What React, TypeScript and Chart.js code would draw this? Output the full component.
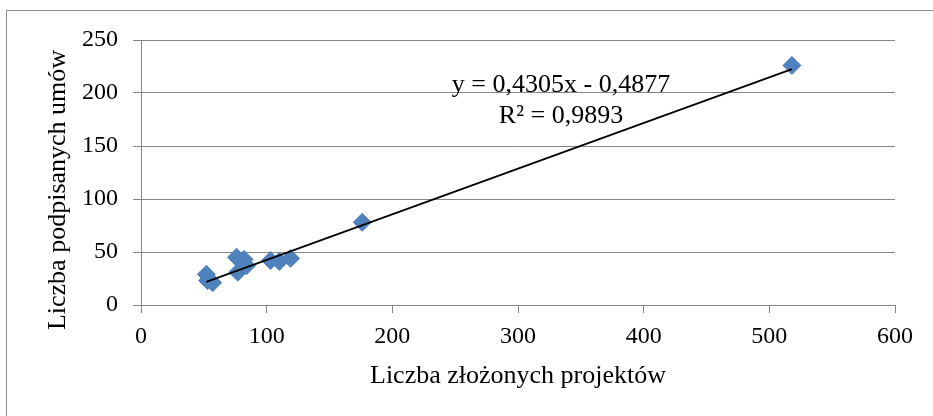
import React, { useEffect, useRef } from "react";
import { Chart, registerables } from "chart.js";

Chart.register(...registerables);

const FONT = "'Liberation Serif', 'Times New Roman', serif";

// Data
const projectsSubmitted = [52, 53, 57, 76, 82, 77, 84, 103, 110, 119, 176, 518];
const contractsSigned = [29, 23, 21, 45, 43, 31, 37, 42, 41, 44, 78, 226];

// Linear trend line as printed on the chart
const trendSlope = 0.4305;
const trendIntercept = -0.4877;
const equationLines = ["y = 0,4305x - 0,4877", "R² = 0,9893"];

const xAxisTitle = "Liczba złożonych projektów";
const yAxisTitle = "Liczba podpisanych umów";

const xTickMin = 0;
const xTickMax = 600;
const xTickStep = 100;
const yTickMin = 0;
const yTickMax = 250;
const yTickStep = 50;

const GRAY = "#878787";
const BLUE = "#4F81BD";

const extraTextPlugin = {
  id: "extraText",
  afterDraw(chart: any) {
    const ctx = chart.ctx;
    ctx.save();
    ctx.fillStyle = "#000";
    ctx.font = `26px ${FONT}`;
    ctx.textAlign = "center";
    ctx.textBaseline = "alphabetic";
    ctx.fillText(equationLines[0], 561, 92);
    ctx.fillText(equationLines[1], 561, 123);
    ctx.translate(58, 190);
    ctx.rotate(-Math.PI / 2);
    ctx.textBaseline = "middle";
    ctx.fillText(yAxisTitle, 0, 0);
    ctx.restore();
  },
};

export default function App() {
  const canvasRef = useRef<HTMLCanvasElement | null>(null);

  useEffect(() => {
    if (!canvasRef.current) return;
    const points = projectsSubmitted.map((x, i) => ({ x, y: contractsSigned[i] }));
    const xMin = Math.min(...projectsSubmitted);
    const xMax = Math.max(...projectsSubmitted);
    const trend = [
      { x: xMin, y: trendSlope * xMin + trendIntercept },
      { x: xMax, y: trendSlope * xMax + trendIntercept },
    ];

    const chart = new Chart(canvasRef.current, {
      type: "scatter",
      data: {
        datasets: [
          {
            type: "line",
            label: "Trend",
            data: trend,
            borderColor: "#000",
            borderWidth: 1.8,
            pointRadius: 0,
            fill: false,
            order: 0,
          } as any,
          {
            label: "Dane",
            data: points,
            pointStyle: "rectRot",
            pointRadius: 9,
            pointHoverRadius: 9,
            backgroundColor: BLUE,
            borderColor: BLUE,
            borderWidth: 1,
            order: 1,
          },
        ],
      },
      options: {
        animation: false,
        responsive: false,
        maintainAspectRatio: false,
        layout: { padding: { left: 0, right: 38, top: 40, bottom: 0 } },
        plugins: {
          legend: { display: false },
          tooltip: { enabled: false },
        },
        scales: {
          x: {
            type: "linear",
            min: xTickMin,
            max: xTickMax,
            ticks: {
              stepSize: xTickStep,
              color: "#000",
              font: { family: FONT, size: 24 },
              padding: 9,
              maxRotation: 0,
            },
            grid: {
              display: true,
              drawOnChartArea: false,
              drawTicks: true,
              tickLength: 8,
              color: GRAY,
              lineWidth: 1,
            },
            border: { display: true, color: GRAY, width: 1 },
            title: {
              display: true,
              text: xAxisTitle,
              color: "#000",
              font: { family: FONT, size: 26 },
              padding: { top: 0, bottom: 24 },
            },
            afterFit(scale: any) {
              scale.height = 111;
            },
          },
          y: {
            type: "linear",
            min: yTickMin,
            max: yTickMax,
            ticks: {
              stepSize: yTickStep,
              color: "#000",
              font: { family: FONT, size: 24 },
              padding: 15,
            },
            grid: {
              display: true,
              drawTicks: true,
              tickLength: 8,
              color: GRAY,
              lineWidth: 1,
            },
            border: { display: true, color: GRAY, width: 1 },
            afterFit(scale: any) {
              scale.width = 141;
            },
          },
        },
      },
      plugins: [extraTextPlugin],
    });
    return () => chart.destroy();
  }, []);

  return (
    <div
      style={{
        position: "fixed",
        left: 0,
        top: 0,
        width: 933,
        height: 416,
        overflow: "hidden",
        background: "#fff",
      }}
    >
      <div
        style={{
          position: "absolute",
          left: 6,
          top: 10,
          width: 1000,
          height: 500,
          border: "1px solid #8a8a8a",
        }}
      />
      <canvas
        ref={canvasRef}
        width={933}
        height={416}
        style={{ position: "absolute", left: 0, top: 0, width: 933, height: 416 }}
      />
    </div>
  );
}
